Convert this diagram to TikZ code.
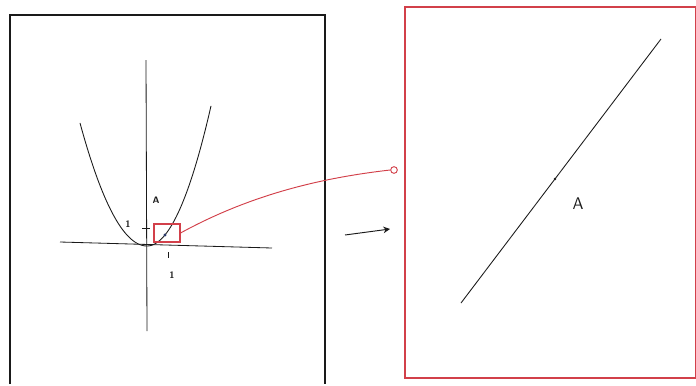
\documentclass[tikz,border=0pt]{standalone}
\usepackage{tikz}
\usepackage{xcolor}
\usetikzlibrary{arrows.meta,positioning,calc}
\definecolor{ink}{HTML}{1A1A1A}
\definecolor{zoomred}{HTML}{D2404A}
\definecolor{dotblue}{HTML}{2A3A6A}
\tikzset{
  panel/.style={draw=ink,line width=1.1pt},
  zoompanel/.style={draw=zoomred,line width=1.3pt},
  axis/.style={draw=ink,line width=0.7pt},
  curve/.style={draw=ink,line width=0.75pt},
  ticklab/.style={font=\sffamily\bfseries\footnotesize,text=ink,inner sep=1pt},
  zoombox/.style={draw=zoomred,line width=0.9pt,minimum width=0.78cm,
                  minimum height=0.54cm,inner sep=0pt},
  zoomarr/.style={draw=zoomred,line width=0.8pt},
  pinring/.style={draw=zoomred,line width=0.8pt,circle,minimum size=0.2cm,inner sep=0pt},
  mapsto/.style={-{Stealth[length=2mm,width=2mm]},line width=0.8pt,draw=ink}
}
\begin{document}
\begin{tikzpicture}[x=0.03cm,y=-0.03cm]
  \useasboundingbox (0,0) rectangle (696,385);

  % left panel: the parabola
  \draw[panel] (10,384) -- (10,15) -- (325,15) -- (325,384);
  \draw[axis] (60,242) -- (272,248);
  \draw[axis] (146,60) -- (147,331);
  \draw[curve] plot[domain=80:147,samples=40] (\x,{246-0.0274*(\x-147)^2});
  \draw[curve] plot[domain=147:211,samples=40] (\x,{246-0.0342*(\x-147)^2});
  \draw[axis] (142,228) -- (150,228);
  \draw[axis] (168,252) -- (168,258);
  \node[ticklab] (ylab) at (128,224) {1};
  \node[ticklab] (xlab) at (172,275) {1};
  \node[ticklab] (alab) at (156,200) {A};
  \fill[dotblue] (165,235) circle (1.4pt);

  % zoom window and its link
  \node[zoombox] (zoomwin) at (167,233) {};
  \node[pinring] (pin) at (394,170) {};
  \draw[zoomarr] (zoomwin.east) .. controls (250,195) and (320,178) .. (pin.west);

  \coordinate (from) at (345,235);
  \coordinate (to) at (390,229);
  \draw[mapsto] (from) -- (to);

  % right panel: the zoomed-in view
  \draw[zoompanel] (405,7) rectangle (696,378);
  \coordinate (lo) at (461,303);
  \coordinate (hi) at (661,39);
  \draw[curve] (lo) -- (hi);
  \fill[ink] (555,179) circle (1.1pt);
  \node[font=\sffamily\Large,text=ink] (ptA) at (578,204) {A};
\end{tikzpicture}
\end{document}
